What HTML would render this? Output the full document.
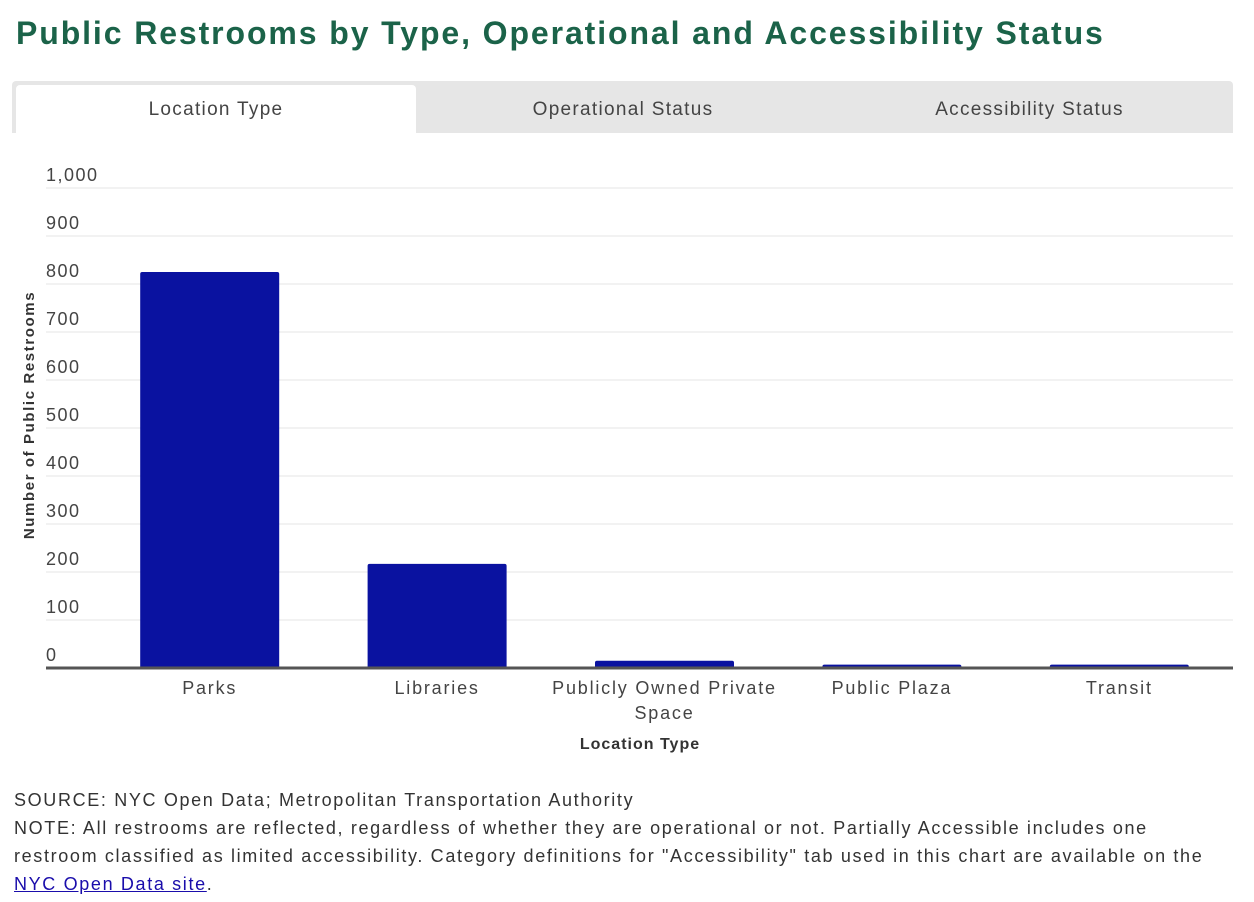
<!DOCTYPE html>
<html><head><meta charset="utf-8"><style>
body{margin:0;width:1254px;height:902px;background:#fff;font-family:"Liberation Sans",sans-serif;position:relative;overflow:hidden;color:#333}
.abs{position:absolute}
.tab{position:absolute;top:85px;height:48px;line-height:50px;text-align:center;font-size:19px;color:#444;letter-spacing:1.3px}
.notes{position:absolute;left:14px;top:786px;font-size:18px;line-height:28px;color:#333;letter-spacing:1.65px;white-space:nowrap}
.notes a{color:#1a0dab}
</style></head><body>
<div class="abs" style="left:16px;top:15px;font-size:32px;font-weight:bold;color:#1b6349;letter-spacing:1.9px;white-space:nowrap">Public Restrooms by Type, Operational and Accessibility Status</div>
<div class="abs" style="left:12px;top:81px;width:1221px;height:52px;background:#e6e6e6;border-radius:4px 4px 0 0"></div>
<div class="tab" style="left:16px;width:400px;background:#fff;border-radius:4px 4px 0 0">Location Type</div>
<div class="tab" style="left:420px;width:406px">Operational Status</div>
<div class="tab" style="left:826px;width:407px">Accessibility Status</div>
<svg class="abs" style="left:0;top:0" width="1254" height="902" id="chart"></svg>
<div class="notes">SOURCE: NYC Open Data; Metropolitan Transportation Authority<br>NOTE: All restrooms are reflected, regardless of whether they are operational or not. Partially Accessible includes one<br>restroom classified as limited accessibility. Category definitions for "Accessibility" tab used in this chart are available on the<br><a href="#">NYC Open Data site</a>.</div>
<script>
const categories=[["Parks"],["Libraries"],["Publicly Owned Private","Space"],["Public Plaza"],["Transit"]];
const values=[825,217,15,7,7];
const yTicks=[0,100,200,300,400,500,600,700,800,900,1000];
const yTickLabels=["0","100","200","300","400","500","600","700","800","900","1,000"];
const NS="http://www.w3.org/2000/svg";
const svg=document.getElementById('chart');
const x0=96,x1=1233,y0=668,yTop=188,maxV=1000;
const band=(x1-x0)/categories.length;
const y=v=>y0-(v/maxV)*(y0-yTop);
const xc=i=>x0+band*(i+0.5);
function mk(t,a){const e=document.createElementNS(NS,t);for(const k in a)e.setAttribute(k,a[k]);svg.appendChild(e);return e;}
yTicks.forEach((t,i)=>{
 if(t>0){const g=mk('line',{x1:46,x2:1233,y1:y(t),y2:y(t),stroke:'#e6e6e6','stroke-width':1});
 
 }
 const l=mk('text',{x:46,y:y(t)-7,'font-size':18,fill:'#444','letter-spacing':'1.5'});l.textContent=yTickLabels[i];
 
 
});
values.forEach((v,i)=>{
 const w=139;
 const r=mk('path',{d:`M${xc(i)-w/2},${y0} V${y(v)+2} Q${xc(i)-w/2},${y(v)} ${xc(i)-w/2+2},${y(v)} H${xc(i)+w/2-2} Q${xc(i)+w/2},${y(v)} ${xc(i)+w/2},${y(v)+2} V${y0} Z`,fill:'#0a12a0'});
 
 
 categories[i].forEach((s,j)=>{
  const t=mk('text',{x:xc(i),y:694+j*25,'font-size':18,fill:'#444','text-anchor':'middle','letter-spacing':'1.8'});t.textContent=s;
  
  
 });
});
const ax=mk('line',{x1:46,x2:1233,y1:y0,y2:y0,stroke:'#555','stroke-width':3});


const xt=mk('text',{x:640,y:749,'font-size':16,'font-weight':'bold',fill:'#333','text-anchor':'middle','letter-spacing':'1'});xt.textContent='Location Type';


const yt=mk('text',{x:0,y:0,'font-size':15,'font-weight':'bold',fill:'#333','text-anchor':'middle','letter-spacing':'1.6',transform:'translate(34,415) rotate(-90)'});yt.textContent='Number of Public Restrooms';


</script>
</body></html>
